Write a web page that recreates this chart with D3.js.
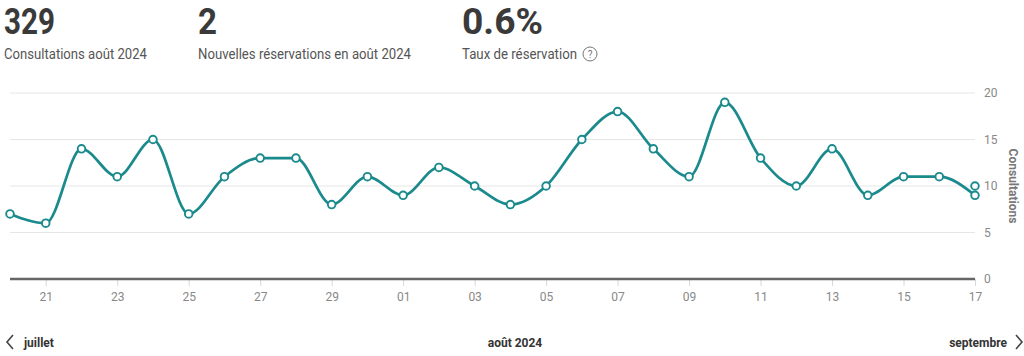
<!DOCTYPE html>
<html><head><meta charset="utf-8">
<script src="https://cdn.jsdelivr.net/npm/d3@7"></script>
<style>
html,body{margin:0;padding:0;background:#fff;}
svg{display:block;font-family:Roboto,"Open Sans",sans-serif;}
</style></head>
<body>
<svg id="chart" width="1024" height="356"></svg>
<script>
// Day labels (20 juillet → 17 août 2024)
const dayLabels = ["20","21","22","23","24","25","26","27","28","29","30",
  "01","02","03","04","05","06","07","08","09","10","11","12","13","14","15","16","17"];
// Consultations per day
const consultations = [7,6,14,11,15,7,11,13,13,8,11,9,12,10,8,10,15,18,14,11,19,13,10,14,9,11,11,9];
// Extra point shown on the last day
const extraPoints = [{i:27, v:10}];
const yTicks = [0,5,10,15,20];
const xTickIdx = [1,3,5,7,9,11,13,15,17,19,21,23,25,27];

const kpis = [
  {value:"329", label:"Consultations août 2024", x:4, vw:51, lw:143},
  {value:"2", label:"Nouvelles réservations en août 2024", x:198, vw:19, lw:213},
  {value:"0.6%", label:"Taux de réservation", x:462, vw:81, lw:115, help:true}
];

const svg = d3.select("#chart");
const teal = "#1b8a8c";

// KPIs
kpis.forEach(k=>{
  svg.append("text").attr("x",k.x).attr("y",34).attr("font-size",36).attr("font-weight",700)
    .attr("fill","#3a3a3a").attr("textLength",k.vw).attr("lengthAdjust","spacingAndGlyphs").text(k.value);
  svg.append("text").attr("x",k.x).attr("y",59).attr("font-size",14).attr("fill","#555")
    .attr("textLength",k.lw).attr("lengthAdjust","spacingAndGlyphs").text(k.label);
  if(k.help){
    const cx = k.x + k.lw + 13;
    svg.append("circle").attr("cx",cx).attr("cy",54).attr("r",7).attr("fill","none").attr("stroke","#777").attr("stroke-width",1);
    svg.append("text").attr("x",cx).attr("y",58).attr("text-anchor","middle").attr("font-size",10).attr("fill","#777").text("?");
  }
});

const x = d3.scalePoint().domain(d3.range(dayLabels.length)).range([10,975]);
const y = d3.scaleLinear().domain([0,20]).range([279,93]);

// gridlines
svg.append("g").selectAll("line").data(yTicks.filter(t=>t>0)).join("line")
  .attr("x1",10).attr("x2",975).attr("y1",d=>y(d)).attr("y2",d=>y(d))
  .attr("stroke","#e6e6e6").attr("stroke-width",1);

// x axis
const xAxis = d3.axisBottom(x).tickValues(xTickIdx).tickFormat(i=>dayLabels[i]).tickSize(7).tickPadding(6);
const gx = svg.append("g").attr("transform",`translate(0,${y(0)})`).call(xAxis);
gx.select(".domain").remove();
gx.selectAll(".tick line").attr("stroke","#d8d8d8");
gx.selectAll(".tick text").attr("fill","#888").attr("font-size",12).attr("font-family","Roboto, sans-serif");
svg.append("line").attr("x1",10).attr("x2",975).attr("y1",y(0)).attr("y2",y(0))
  .attr("stroke","#666").attr("stroke-width",2.5);

// y axis (right)
const yAxis = d3.axisRight(y).tickValues(yTicks).tickSize(0).tickPadding(9);
const gy = svg.append("g").attr("transform","translate(975,0)").call(yAxis);
gy.select(".domain").remove();
gy.selectAll(".tick text").attr("fill","#888").attr("font-size",12).attr("font-family","Roboto, sans-serif");

svg.append("text").attr("transform",`translate(1009,${y(10)}) rotate(90)`).attr("text-anchor","middle")
  .attr("font-size",12).attr("font-weight",700).attr("fill","#777").text("Consultations");

// line
const line = d3.line().x((d,i)=>x(i)).y(d=>y(d)).curve(d3.curveMonotoneX);
svg.append("path").datum(consultations).attr("d",line).attr("fill","none")
  .attr("stroke",teal).attr("stroke-width",2.7);

const pts = consultations.map((v,i)=>({i,v})).concat(extraPoints);
svg.append("g").selectAll("circle").data(pts).join("circle")
  .attr("cx",d=>x(d.i)).attr("cy",d=>y(d.v)).attr("r",3.8)
  .attr("fill","#fff").attr("stroke",teal).attr("stroke-width",1.9);

// bottom navigation
const chev = (xs, dir) => {
  const p = dir<0 ? `M${xs+6},335 L${xs},342 L${xs+6},349` : `M${xs},335 L${xs+6},342 L${xs},349`;
  svg.append("path").attr("d",p).attr("fill","none").attr("stroke","#444").attr("stroke-width",1.6);
};
chev(7,-1);
svg.append("text").attr("x",24).attr("y",347).attr("font-size",12).attr("font-weight",700).attr("fill","#333").text("juillet");
svg.append("text").attr("x",515).attr("y",347).attr("text-anchor","middle").attr("font-size",12).attr("font-weight",700).attr("fill","#333").text("août 2024");
svg.append("text").attr("x",1007).attr("y",347).attr("text-anchor","end").attr("font-size",12).attr("font-weight",700).attr("fill","#333").text("septembre");
chev(1016,1);
</script>
</body></html>
